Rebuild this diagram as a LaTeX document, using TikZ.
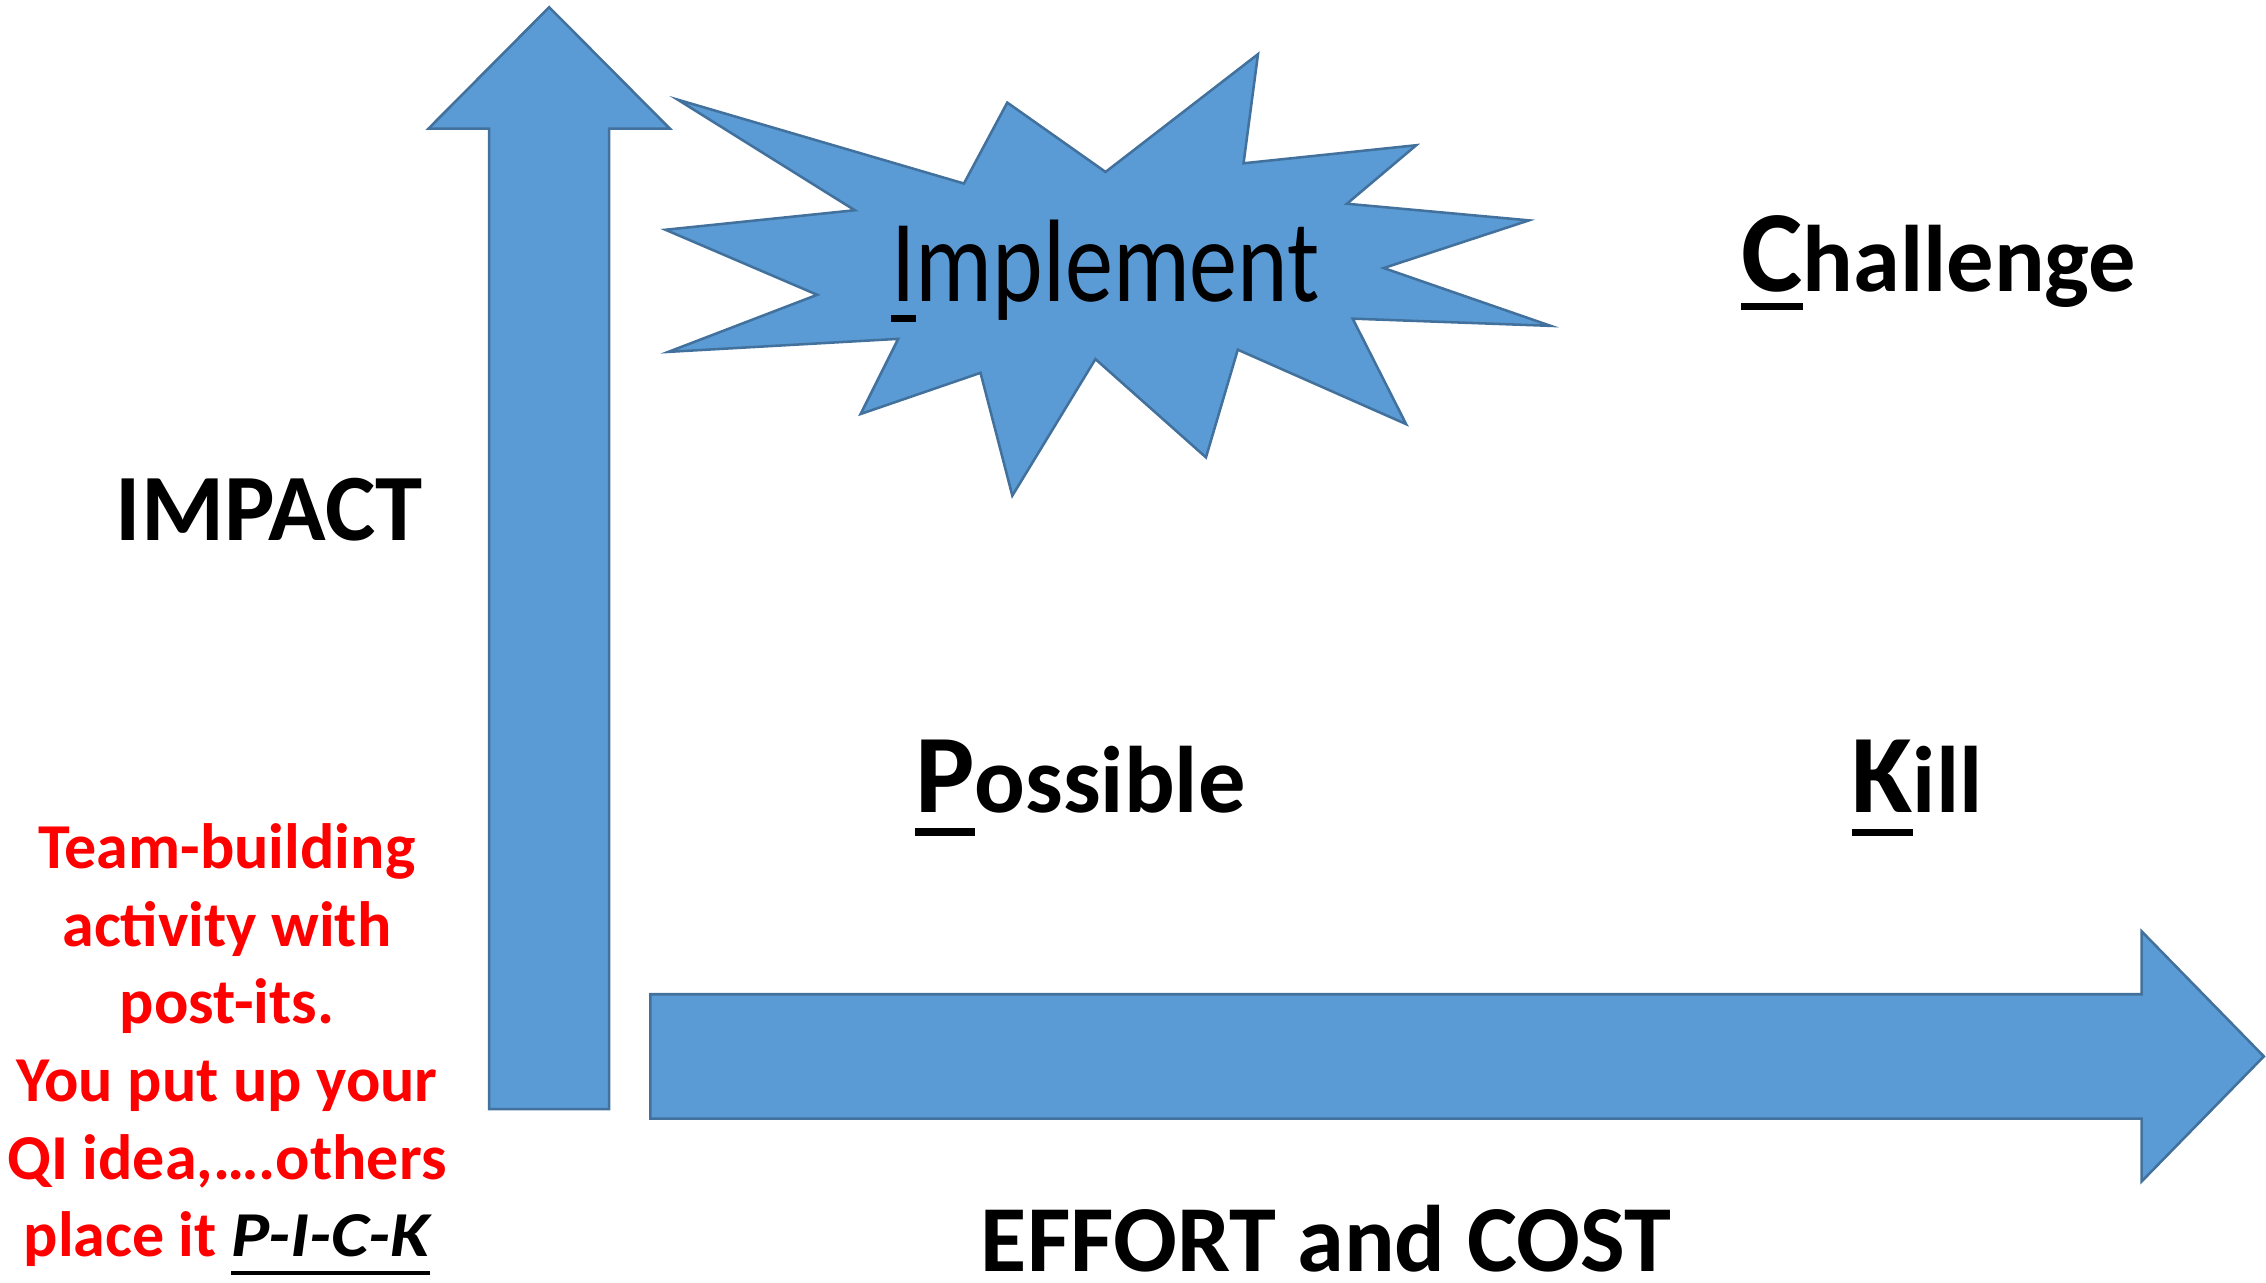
\documentclass[tikz,border=0pt]{standalone}
\usepackage{fontspec}
\setmainfont{Carlito}
\newfontfamily\implfont[FakeStretch=0.82]{Carlito}
\newfontfamily\pickfont[FakeStretch=1.12]{Carlito}
\definecolor{arrowblue}{HTML}{5B9BD5}
\definecolor{arrowline}{HTML}{41719C}
\definecolor{notered}{HTML}{FF0000}
\newcommand\ulfirst[2][0.18em]{\setbox0\hbox{#2}\rlap{\rule[-#1]{\wd0}{0.065em}}\box0}
\begin{document}
\begin{tikzpicture}[x=0.01cm,y=-0.01cm,
  blueshape/.style={fill=arrowblue,draw=arrowline,line width=0.5pt,line join=miter},
  lbl/.style={inner sep=0pt,outer sep=0pt,anchor=base}]
\useasboundingbox (0,0) rectangle (1568,887.8);
% vertical arrow (IMPACT axis)
\draw[blueshape] (338.5,767.5) -- (338.5,89) -- (296.5,89) -- (380,5) -- (463.5,89)
  -- (421.5,89) -- (421.5,767.5) -- cycle;
% horizontal arrow (EFFORT axis)
\draw[blueshape] (450,688) -- (1482,688) -- (1482,644.5) -- (1566.5,731) -- (1482,817.5)
  -- (1482,774) -- (450,774) -- cycle;
% starburst
\draw[blueshape] (469,69) -- (667,127) -- (697,71) -- (765,119) -- (870.5,37.5) -- (860.5,113)
  -- (980,100.5) -- (932,141) -- (1058,152.5) -- (957.5,185.5) -- (1073,225.5) -- (936,220.5)
  -- (973,293.5) -- (856.5,242) -- (834.5,316.5) -- (758,248.5) -- (700.5,343) -- (678.5,258)
  -- (595.5,286.5) -- (621.5,234.5) -- (462.5,243.5) -- (565.5,204) -- (460.5,159)
  -- (591.5,145.5) -- cycle;
% labels
\node[lbl,font=\bfseries\fontsize{18.7pt}{22pt}\selectfont] (impact) at (186.4,373.9) {IMPACT};
\node[lbl] (implement) at (765,208.5)
  {\implfont\fontsize{23.1pt}{27pt}\selectfont\ulfirst{I}mplement};
\node[lbl] (challenge) at (1341.5,201.8)
  {\bfseries\fontsize{22.8pt}{27pt}\selectfont\ulfirst[0.16em]{C}\fontsize{18.6pt}{22pt}\selectfont hallenge};
\node[lbl] (possible) at (747.5,562)
  {\bfseries\fontsize{22pt}{27pt}\selectfont\ulfirst[0.21em]{P}\fontsize{18.6pt}{22pt}\selectfont ossible};
\node[lbl] (kill) at (1326.6,562.3)
  {\bfseries\fontsize{22pt}{27pt}\selectfont\ulfirst[0.21em]{K}\fontsize{18.6pt}{22pt}\selectfont ill};
\node[lbl,font=\bfseries\fontsize{18.6pt}{22pt}\selectfont] (effort) at (917.5,880) {EFFORT and COST};
\node[lbl,text=notered,font=\bfseries\fontsize{12.6pt}{15.28pt}\selectfont] (note) at (157,601)
  {\setlength{\tabcolsep}{0pt}\begin{tabular}[t]{c}
   Team-building\\
   activity with\\
   post-its.\\
   You put up your\\
   QI idea,….others\\
   place it \textcolor{black}{\pickfont\bfseries\itshape\ulfirst[0.28em]{P-I-C-K}}
   \end{tabular}};
\end{tikzpicture}
\end{document}
